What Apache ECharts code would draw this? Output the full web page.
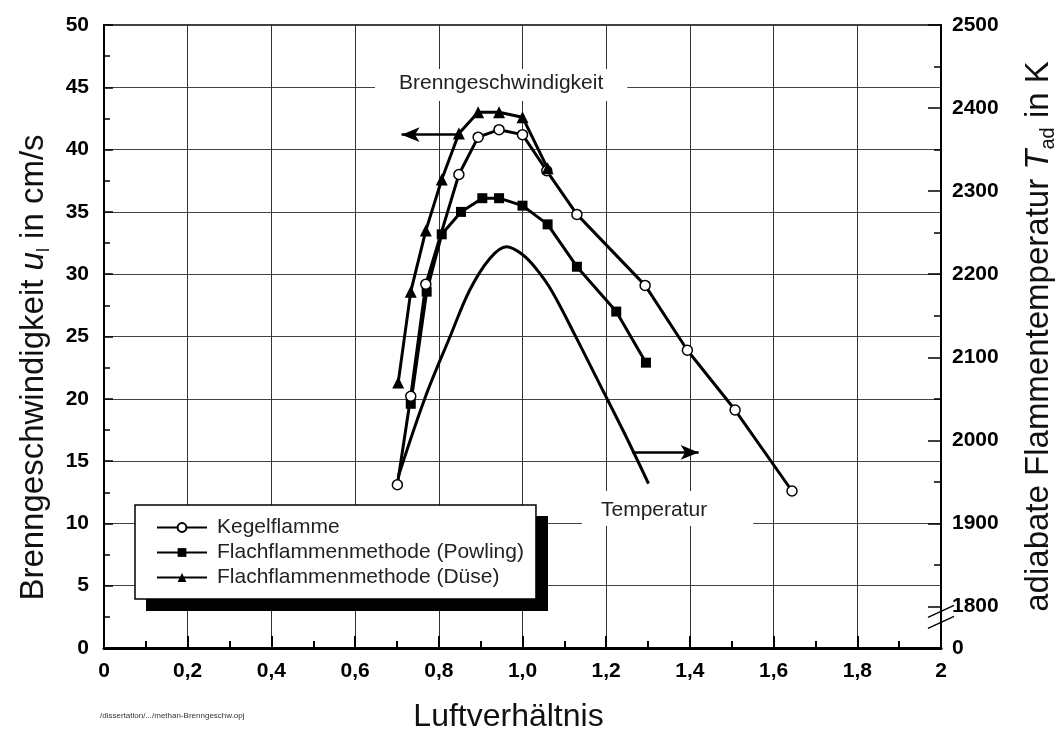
<!DOCTYPE html>
<html>
<head>
<meta charset="utf-8">
<title>Brenngeschwindigkeit Methan</title>
<script src="https://cdn.jsdelivr.net/npm/echarts@6/dist/echarts.min.js"></script>
<style>
  html, body { margin: 0; padding: 0; background: #fff; }
  #chart { width: 1060px; height: 730px; }
</style>
</head>
<body>
<div id="chart"></div>
<script>
// Luftverhaeltnis (x) und Brenngeschwindigkeit in cm/s (y)
const kegelLambda = [0.701, 0.733, 0.769, 0.848, 0.894, 0.944, 1.0, 1.058, 1.130, 1.293, 1.394, 1.508, 1.644]
const kegelSpeed = [13.1, 20.2, 29.2, 38.0, 41.0, 41.6, 41.2, 38.3, 34.8, 29.1, 23.9, 19.1, 12.6]

const powlingLambda = [0.733, 0.771, 0.807, 0.853, 0.904, 0.944, 1.0, 1.060, 1.130, 1.224, 1.295]
const powlingSpeed = [19.6, 28.6, 33.2, 35.0, 36.1, 36.1, 35.5, 34.0, 30.6, 27.0, 22.9]

const duseLambda = [0.703, 0.733, 0.769, 0.807, 0.848, 0.894, 0.944, 1.0, 1.060]
const duseSpeed = [21.3, 28.6, 33.5, 37.6, 41.3, 43.0, 43.0, 42.6, 38.5]

// adiabate Flammentemperatur in K (rechte Achse)
const tempLambda = [0.703, 0.767, 0.827, 0.874, 0.922, 0.962, 0.999, 1.032, 1.071, 1.126, 1.185, 1.245, 1.301]
const tempK = [1956, 2051, 2125, 2181, 2219, 2233, 2224, 2207, 2179, 2126, 2067, 2007, 1948]

// Pfeile (Start, Spitze) in Achsenkoordinaten der linken Achse
const speedArrow = [[0.846, 41.2], [0.711, 41.2]]
const tempArrow = [[1.262, 15.7], [1.421, 15.7]]

const seriesNames = ['Kegelflamme', 'Flachflammenmethode (Powling)', 'Flachflammenmethode (Düse)']
const tempName = 'Temperatur'

const FONT = '"Liberation Sans", Arial, Helvetica, sans-serif'

function zip(xs, ys) {
  return xs.map((x, i) => [x, ys[i]])
}

function xLabel(v) {
  if (v === 0 || v === 2) return String(v)
  return v.toFixed(1).replace('.', ',')
}

function tempLabel(v) {
  if (v === 1750) return '0'
  return v % 100 === 0 ? String(v) : ''
}

const chart = echarts.init(document.getElementById('chart'), null, { renderer: 'canvas' })

const lineBase = {
  type: 'line',
  lineStyle: { color: '#000', width: 3 },
  animation: false,
  z: 3
}

chart.setOption({
  backgroundColor: '#fff',
  textStyle: { fontFamily: FONT },
  grid: {
    left: 104,
    right: 119,
    top: 25,
    bottom: 82,
    outerBoundsMode: 'none',
    containLabel: false,
    show: true,
    borderColor: '#000',
    borderWidth: 1.5,
    backgroundColor: 'transparent'
  },
  legend: {
    data: seriesNames,
    orient: 'vertical',
    left: 135,
    top: 505,
    z: 6,
    backgroundColor: '#fff',
    borderColor: '#000',
    borderWidth: 1.5,
    borderRadius: 0,
    padding: [12, 12, 11, 21],
    itemWidth: 50,
    itemHeight: 11,
    itemGap: 4,
    selectedMode: false,
    textStyle: { fontFamily: FONT, fontSize: 21, color: '#222', padding: [0, 0, 0, 5] }
  },
  xAxis: {
    type: 'value',
    min: 0,
    max: 2,
    interval: 0.2,
    name: 'Luftverhältnis',
    nameLocation: 'middle',
    nameGap: 53,
    nameTextStyle: { fontFamily: FONT, fontSize: 32, color: '#111', padding: [0, 28, 0, 0] },
    axisLine: { lineStyle: { color: '#000', width: 3 } },
    axisTick: { show: true, inside: true, length: 12, lineStyle: { color: '#000', width: 2 } },
    minorTick: { show: true, splitNumber: 2, length: 7, lineStyle: { color: '#000', width: 2 } },
    splitLine: { show: true, lineStyle: { color: '#333', width: 1 } },
    axisLabel: {
      formatter: xLabel,
      margin: 13,
      fontFamily: FONT,
      fontSize: 21,
      fontWeight: 'bold',
      color: '#000'
    }
  },
  yAxis: [
    {
      type: 'value',
      min: 0,
      max: 50,
      interval: 5,
      position: 'left',
      name: 'Brenngeschwindigkeit {i|u}{sub|l} in cm/s',
      nameLocation: 'middle',
      nameRotate: 90,
      nameGap: 51,
      nameTextStyle: {
        fontFamily: FONT,
        fontSize: 33,
        color: '#111',
        lineHeight: 38,
        padding: [0, 62, 0, 0],
        rich: {
          i: { fontFamily: FONT, fontSize: 33, fontStyle: 'italic', color: '#111', lineHeight: 38 },
          sub: { fontFamily: FONT, fontSize: 18, color: '#111', lineHeight: 20, verticalAlign: 'bottom' }
        }
      },
      axisLine: { show: true, lineStyle: { color: '#000', width: 2 } },
      axisTick: { show: true, inside: true, length: 9, lineStyle: { color: '#000', width: 1.5 } },
      minorTick: { show: true, splitNumber: 2, length: 6, lineStyle: { color: '#000', width: 1.5 } },
      splitLine: { show: true, lineStyle: { color: '#444', width: 1 } },
      axisLabel: {
        margin: 15,
        fontFamily: FONT,
        fontSize: 21,
        fontWeight: 'bold',
        color: '#000'
      }
    },
    {
      type: 'value',
      min: 1750,
      max: 2500,
      splitNumber: 8,
      position: 'right',
      name: 'adiabate Flammentemperatur {i|T}{sub|ad} in K',
      nameLocation: 'middle',
      nameRotate: 90,
      nameGap: 79,
      nameTextStyle: {
        fontFamily: FONT,
        fontSize: 33,
        color: '#111',
        lineHeight: 38,
        rich: {
          i: { fontFamily: FONT, fontSize: 33, fontStyle: 'italic', color: '#111', lineHeight: 38 },
          sub: { fontFamily: FONT, fontSize: 20, color: '#111', lineHeight: 22, verticalAlign: 'bottom' }
        }
      },
      axisLine: { show: true, lineStyle: { color: '#000', width: 2 } },
      axisTick: { show: true, inside: true, length: 13, lineStyle: { color: '#000', width: 1.5 } },
      minorTick: { show: true, splitNumber: 2, length: 7, lineStyle: { color: '#000', width: 1.5 } },
      splitLine: { show: false },
      axisLabel: {
        formatter: tempLabel,
        showMinLabel: true,
        showMaxLabel: true,
        margin: 11,
        fontFamily: FONT,
        fontSize: 21,
        fontWeight: 'bold',
        color: '#000'
      }
    }
  ],
  series: [
    {
      name: tempName,
      type: 'line',
      yAxisIndex: 1,
      smooth: 0.35,
      showSymbol: false,
      lineStyle: { color: '#000', width: 3 },
      data: zip(tempLambda, tempK),
      animation: false,
      z: 2
    },
    Object.assign({}, lineBase, {
      name: seriesNames[1],
      symbol: 'rect',
      symbolSize: 10,
      itemStyle: { color: '#000' },
      data: zip(powlingLambda, powlingSpeed)
    }),
    Object.assign({}, lineBase, {
      name: seriesNames[0],
      symbol: 'circle',
      symbolSize: 10,
      itemStyle: { color: '#fff', borderColor: '#000', borderWidth: 1.5 },
      data: zip(kegelLambda, kegelSpeed),
      markLine: {
        silent: true,
        animation: false,
        symbol: ['none', 'arrow'],
        symbolSize: [11, 18],
        label: { show: false },
        lineStyle: { color: '#000', width: 2.5, type: 'solid' },
        data: [
          [{ coord: speedArrow[0] }, { coord: speedArrow[1] }],
          [{ coord: tempArrow[0] }, { coord: tempArrow[1] }]
        ]
      }
    }),
    Object.assign({}, lineBase, {
      name: seriesNames[2],
      symbol: 'triangle',
      symbolSize: 12,
      itemStyle: { color: '#000' },
      data: zip(duseLambda, duseSpeed)
    })
  ]
})

// Beschriftungen, Legendenschatten, Achsenbruch und Dateipfad
const axisX = chart.convertToPixel({ xAxisIndex: 0 }, 2)
const breakY = chart.convertToPixel({ yAxisIndex: 1 }, 1788)

chart.setOption({
  graphic: [
    {
      type: 'rect',
      z: 5,
      shape: { x: 146, y: 516, width: 402, height: 95 },
      style: { fill: '#000' }
    },
    {
      type: 'text',
      z: 1,
      left: 375,
      top: 69,
      style: {
        text: 'Brenngeschwindigkeit',
        fontFamily: FONT,
        fontSize: 21,
        fill: '#222',
        backgroundColor: '#fff',
        padding: [4, 24, 7, 24]
      }
    },
    {
      type: 'text',
      z: 1,
      left: 582,
      top: 491,
      style: {
        text: tempName,
        fontFamily: FONT,
        fontSize: 21,
        fill: '#222',
        backgroundColor: '#fff',
        padding: [9, 46, 5, 19]
      }
    },
    {
      type: 'text',
      left: 100,
      top: 712,
      style: {
        text: '/dissertation/.../methan-Brenngeschw.opj',
        fontFamily: FONT,
        fontSize: 8,
        fill: '#333'
      }
    },
    {
      type: 'line',
      z: 10,
      shape: { x1: axisX - 13, y1: breakY + 1, x2: axisX + 13, y2: breakY - 11 },
      style: { stroke: '#000', lineWidth: 1.5 }
    },
    {
      type: 'line',
      z: 10,
      shape: { x1: axisX - 13, y1: breakY + 12, x2: axisX + 13, y2: breakY },
      style: { stroke: '#000', lineWidth: 1.5 }
    }
  ]
})
</script>
</body>
</html>
